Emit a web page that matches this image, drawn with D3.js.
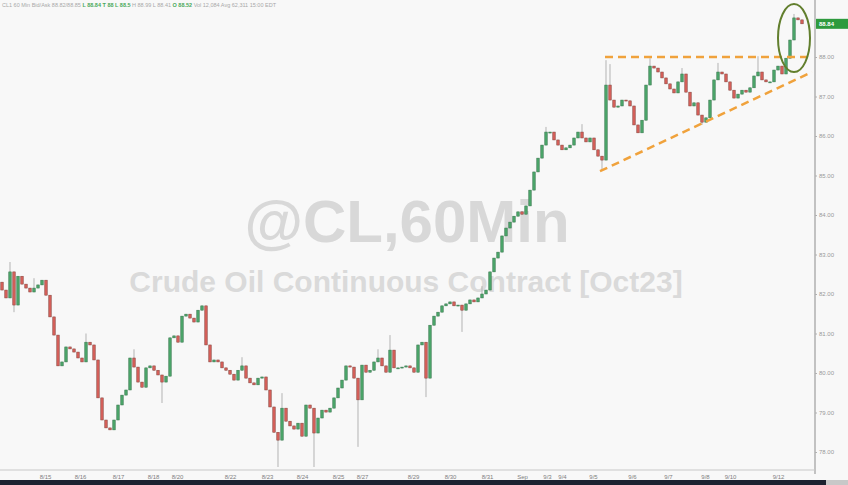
<!DOCTYPE html>
<html>
<head>
<meta charset="utf-8">
<script src="https://cdn.jsdelivr.net/npm/d3@7"></script>
<style>
  html, body { margin: 0; padding: 0; background: #f8f8f8; }
  svg { display: block; }
</style>
</head>
<body>
<svg id="chart" width="848" height="485"></svg>
<script>
// ---- DATA (hourly-ish bars, CL continuous, Aug 14 – Sep 12 2023) ----
const firstOpen = 82.30;
const closes = [
  82.10, 81.90, 82.56, 81.72, 82.45, 82.25, 82.15, 82.05, 82.15, 82.23,
  82.35, 81.97, 81.42, 80.96, 80.18, 80.28, 80.66, 80.61, 80.53, 80.38,
  80.28, 80.78, 80.71, 80.33, 79.37, 78.81, 78.61, 78.56, 78.81, 79.19,
  79.44, 79.57, 80.38, 80.15, 79.77, 79.64, 80.13, 80.18, 80.07, 79.95,
  79.77, 79.92, 80.89, 80.94, 80.78, 81.44, 81.49, 81.39, 81.29, 81.59,
  81.70, 80.71, 80.28, 80.33, 80.28, 80.13, 80.07, 79.97, 79.82, 80.07,
  80.18, 79.87, 79.75, 79.70, 79.87, 79.90, 79.57, 79.14, 78.50, 78.30,
  79.11, 78.78, 78.66, 78.58, 78.73, 78.40, 79.19, 79.11, 78.48, 78.86,
  79.06, 79.01, 79.11, 79.37, 79.62, 79.82, 80.18, 80.15, 79.87, 79.32,
  80.20, 80.02, 80.07, 80.28, 80.38, 80.18, 80.02, 80.58, 80.13, 80.13,
  80.15, 80.18, 80.13, 80.02, 80.71, 80.78, 79.87, 81.21, 81.44, 81.54,
  81.70, 81.75, 81.80, 81.70, 81.72, 81.59, 81.75, 81.85, 81.80, 81.90,
  82.00, 82.10, 82.56, 82.91, 83.06, 83.47, 83.67, 83.82, 83.97, 84.08,
  84.02, 84.23, 84.63, 85.09, 85.44, 85.77, 86.10, 86.10, 85.90, 85.77,
  85.65, 85.70, 85.77, 85.95, 86.10, 85.95, 85.85, 85.95, 85.65, 85.49,
  85.39, 87.29, 86.91, 86.73, 86.76, 86.91, 86.89, 86.76, 86.28, 86.08,
  86.40, 87.29, 87.77, 87.72, 87.62, 87.47, 87.32, 87.19, 87.09, 87.37,
  87.57, 87.11, 86.76, 86.84, 86.53, 86.35, 86.46, 86.91, 87.42, 87.62,
  87.57, 87.37, 87.16, 86.96, 87.06, 87.16, 87.11, 87.22, 87.52, 87.62,
  87.42, 87.37, 87.37, 87.67, 87.77, 87.57, 87.97, 88.43, 88.99, 88.94,
  88.84
];
// notable wicks: bar index, high, low (null = body edge)
const wicks = [
  {i: 2, hi: 82.81, lo: null}, {i: 3, hi: null, lo: 81.54},
  {i: 8, hi: 82.40, lo: null}, {i: 21, hi: 81.00, lo: null},
  {i: 33, hi: 80.60, lo: null}, {i: 40, hi: null, lo: 79.24},
  {i: 60, hi: 80.40, lo: null}, {i: 69, hi: null, lo: 77.62},
  {i: 70, hi: 79.49, lo: null}, {i: 78, hi: null, lo: 77.62},
  {i: 89, hi: null, lo: 78.13}, {i: 94, hi: 80.60, lo: null},
  {i: 97, hi: 80.96, lo: null}, {i: 106, hi: null, lo: 79.39},
  {i: 115, hi: null, lo: 81.04}, {i: 120, hi: 82.20, lo: null},
  {i: 136, hi: 86.23, lo: null}, {i: 145, hi: 86.30, lo: null},
  {i: 150, hi: null, lo: 85.14}, {i: 151, hi: 87.92, lo: null},
  {i: 152, hi: 87.82, lo: null}, {i: 162, hi: 87.97, lo: null},
  {i: 170, hi: 87.72, lo: null}, {i: 175, hi: null, lo: 86.28},
  {i: 179, hi: 87.85, lo: null}, {i: 189, hi: 88.02, lo: null},
  {i: 198, hi: 89.09, lo: null}
];
const yTicks = [78, 79, 80, 81, 82, 83, 84, 85, 86, 87, 88];
const dateLabels = ["8/15","8/16","8/17","8/18","8/20","8/22","8/23","8/24","8/25","8/27","8/29","8/30","8/31","Sep","9/3","9/4","9/5","9/6","9/7","9/8","9/10","9/12"];
const dateIdx    = [10.75, 19.5, 29, 37.75, 43.75, 57, 66.25, 75, 84, 90, 102.75, 112, 121.25, 130, 136.25, 140, 147.75, 157.5, 166.5, 175.75, 182, 194];
const lastPrice = 88.84;
// annotation: triangle trendlines (bar index, price)
const topLine = [{i: 150.75, p: 88.00}, {i: 202, p: 88.00}];
const bottomLine = [{i: 149.5, p: 85.11}, {i: 202.5, p: 87.62}];
const circleCenter = {i: 198, p: 88.48};
const titleMain = "@CL,60Min";
const titleSub = "Crude Oil Continuous Contract [Oct23]";

// ---- BUILD ----
const svg = d3.select("#chart");
const W = 848, H = 485;
const x = d3.scaleLinear().domain([0, closes.length - 1]).range([2, 802]);
const y = d3.scaleLinear().domain([78, 88]).range([452, 57]);

svg.append("rect").attr("width", W).attr("height", H).attr("fill", "#f8f8f8");

// header line
const hdr = svg.append("text").attr("x", 2).attr("y", 7)
  .attr("font-family", "Liberation Sans, Arial, sans-serif").attr("font-size", 5.5);
hdr.append("tspan").attr("fill", "#a8a8a8").text("CL1   60 Min   Bid/Ask  88.82/88.85   ");
hdr.append("tspan").attr("fill", "#4aa85a").attr("font-weight", "bold").text("L 88.84  T 88  L 88.5   ");
hdr.append("tspan").attr("fill", "#a8a8a8").text("H 88.99  L 88.41   ");
hdr.append("tspan").attr("fill", "#4aa85a").attr("font-weight", "bold").text("O 88.52   ");
hdr.append("tspan").attr("fill", "#a8a8a8").text("Vol 12,084   Avg 62,311   15:00 EDT");

// watermark
svg.append("text").attr("x", 407).attr("y", 242).attr("text-anchor", "middle")
  .attr("font-family", "Liberation Sans, Arial, sans-serif").attr("font-weight", "bold")
  .attr("font-size", 60).attr("fill", "#d8d8d8").text(titleMain);
svg.append("text").attr("x", 406).attr("y", 292).attr("text-anchor", "middle")
  .attr("font-family", "Liberation Sans, Arial, sans-serif").attr("font-weight", "bold")
  .attr("font-size", 30).attr("fill", "#dadada").text(titleSub);

// axes lines
svg.append("line").attr("x1", 815).attr("x2", 815).attr("y1", 0).attr("y2", 474)
  .attr("stroke", "#b0b0b0").attr("stroke-width", 1.5);
svg.append("line").attr("x1", 0).attr("x2", 815).attr("y1", 470).attr("y2", 470)
  .attr("stroke", "#c8c8c8").attr("stroke-width", 1);

// y axis (right)
const yAxis = d3.axisRight(y).tickValues(yTicks).tickFormat(d3.format(".2f")).tickSize(2).tickPadding(2);
const yg = svg.append("g").attr("transform", "translate(815,0)").call(yAxis);
yg.select(".domain").remove();
yg.selectAll("line").attr("stroke", "#b0b0b0");
yg.selectAll("text").attr("font-family", "Liberation Sans, Arial, sans-serif").attr("font-size", 6).attr("fill", "#999999");

// x axis labels
const xAxis = d3.axisBottom(x).tickValues(dateIdx).tickFormat((d, k) => dateLabels[k]).tickSize(0).tickPadding(5);
const xg = svg.append("g").attr("transform", "translate(0,470)").call(xAxis);
xg.select(".domain").remove();
xg.selectAll("text").attr("font-family", "Liberation Sans, Arial, sans-serif").attr("font-size", 6).attr("fill", "#808080");

// bottom dark strip
svg.append("rect").attr("x", 0).attr("y", 480).attr("width", 826).attr("height", 5).attr("fill", "#1c2230");
svg.append("rect").attr("x", 826).attr("y", 480).attr("width", 22).attr("height", 5).attr("fill", "#c8c8c8");

// candles
const wickMap = new Map(wicks.map(w => [w.i, w]));
const bars = closes.map((c, i) => {
  const o = i === 0 ? firstOpen : closes[i - 1];
  const w = wickMap.get(i);
  const hi = w && w.hi != null ? w.hi : Math.max(o, c);
  const lo = w && w.lo != null ? w.lo : Math.min(o, c);
  return {i, o, c, hi, lo};
});
const cg = svg.append("g");
cg.selectAll("line.wick").data(bars).join("line").attr("class", "wick")
  .attr("x1", d => x(d.i)).attr("x2", d => x(d.i))
  .attr("y1", d => y(d.hi)).attr("y2", d => y(d.lo))
  .attr("stroke", "#b3b3b3").attr("stroke-width", 1);
const bw = 2.5;
cg.selectAll("rect.body").data(bars).join("rect").attr("class", "body")
  .attr("x", d => x(d.i) - bw / 2).attr("width", bw)
  .attr("y", d => y(Math.max(d.o, d.c)))
  .attr("height", d => Math.max(1, Math.abs(y(d.o) - y(d.c))))
  .attr("fill", d => d.c >= d.o ? "#4aa368" : "#d25e58")
  .attr("stroke", d => d.c >= d.o ? "#35744a" : "#83423a")
  .attr("stroke-width", 0.5);

// triangle trendlines
const line = d3.line().x(d => x(d.i)).y(d => y(d.p));
[topLine, bottomLine].forEach(l => {
  svg.append("path").attr("d", line(l)).attr("fill", "none")
    .attr("stroke", "#f0a23c").attr("stroke-width", 2.5).attr("stroke-dasharray", "8,5");
});

// circle annotation
svg.append("ellipse").attr("cx", x(circleCenter.i)).attr("cy", y(circleCenter.p))
  .attr("rx", 16).attr("ry", 34).attr("fill", "none")
  .attr("stroke", "#627f2e").attr("stroke-width", 2);

// last price tag
svg.append("rect").attr("x", 816).attr("y", y(lastPrice) - 5).attr("width", 32).attr("height", 10).attr("fill", "#2e9a3e");
svg.append("text").attr("x", 819).attr("y", y(lastPrice) + 2.2)
  .attr("font-family", "Liberation Sans, Arial, sans-serif").attr("font-size", 6).attr("font-weight", "bold")
  .attr("fill", "#ffffff").text(lastPrice.toFixed(2));
</script>
</body>
</html>
